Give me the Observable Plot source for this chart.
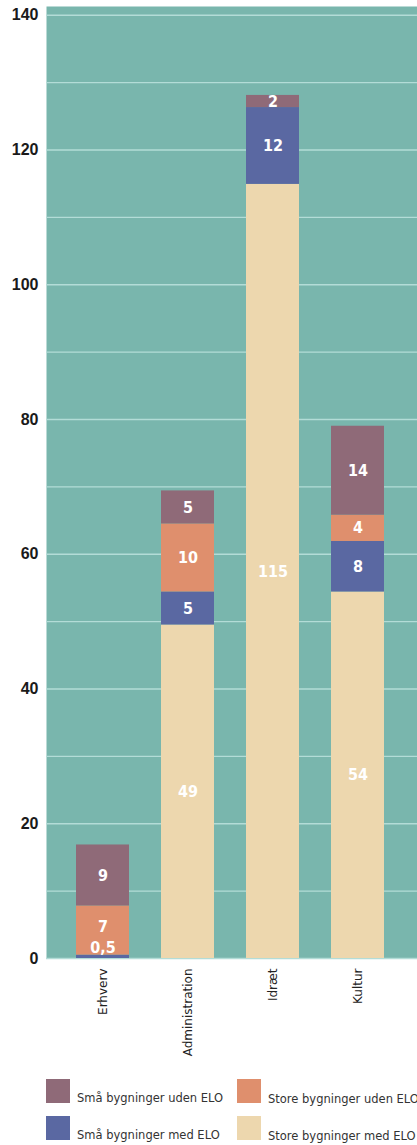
<!DOCTYPE html>
<html>
<head>
<meta charset="utf-8">
<script src="https://cdn.jsdelivr.net/npm/d3@7"></script>
<script src="https://cdn.jsdelivr.net/npm/@observablehq/plot@0.6"></script>
<style>
  html, body { margin: 0; padding: 0; background: #fff; }
  body { position: relative; width: 417px; height: 1145px; overflow: hidden; }
  #chart { position: absolute; left: 0; top: 0; }
  .sw { position: absolute; width: 24px; height: 24px; }
  .lt { position: absolute; font-family: "DejaVu Sans", sans-serif; font-size: 11.5px; line-height: 14px; color: #333; white-space: nowrap; }
  g.lbl text, g.lbl { font-family: "DejaVu Sans Condensed", "DejaVu Sans", sans-serif; font-stretch: condensed; }
</style>
</head>
<body>
<div id="chart"></div>
<div id="legend"></div>
<script>
// Categories (x axis)
const categories = ["Erhverv", "Administration", "Idræt", "Kultur"];
// Series, stacked bottom to top
const seriesNames = ["Store bygninger med ELO", "Små bygninger med ELO", "Store bygninger uden ELO", "Små bygninger uden ELO"];
const seriesColors = ["#edd7ae", "#5a68a2", "#df8f6d", "#8f6a78"];
// Values (bar heights)
const storeMedELO  = [0,    49.5, 114.9, 54.4];
const smaaMedELO   = [0.5,  4.9,  11.4,  7.5];
const storeUdenELO = [7.3,  10.1, 0,     3.9];
const smaaUdenELO  = [9.05, 4.9,  1.8,   13.2];
// Printed labels
const storeMedLabels  = ["", "49", "115", "54"];
const smaaMedLabels   = ["0,5", "5", "12", "8"];
const storeUdenLabels = ["7", "10", "", "4"];
const smaaUdenLabels  = ["9", "5", "2", "14"];
// Y tick labels
const yTicks = [0, 20, 40, 60, 80, 100, 120, 140];
const yGrid = [0, 10, 20, 30, 40, 50, 60, 70, 80, 90, 100, 110, 120, 130, 140];

const seriesValues = [storeMedELO, smaaMedELO, storeUdenELO, smaaUdenELO];
const seriesLabels = [storeMedLabels, smaaMedLabels, storeUdenLabels, smaaUdenLabels];
const data = [];
seriesNames.forEach((s, si) => {
  categories.forEach((c, ci) => {
    data.push({cat: c, series: s, value: seriesValues[si][ci], label: seriesLabels[si][ci]});
  });
});
const nonzero = data.filter(d => d.value > 0);

const labelStyle = {fill: "white", fontWeight: "bold", fontSize: 16, className: "lbl"};
const isTiny = d => d.value < 1;
const isRaised = d => d.cat === "Erhverv" && d.series === "Store bygninger uden ELO";

const stackText = (textFn, extra) => Plot.text(nonzero, Plot.stackY({
  x: "cat", y: "value", z: "series", order: seriesNames, text: textFn, ...labelStyle, ...extra
}));

const chart = Plot.plot({
  width: 417,
  height: 1065,
  marginLeft: 46,
  marginRight: 0,
  marginTop: 6,
  marginBottom: 107,
  style: {background: "transparent", fontFamily: "DejaVu Sans, sans-serif"},
  x: {domain: categories, range: [75, 384], paddingInner: 0.379, paddingOuter: 0, label: null},
  y: {domain: [0, 141.3], label: null},
  color: {domain: seriesNames, range: seriesColors},
  marks: [
    Plot.frame({fill: "#79b6ad", stroke: null}),
    Plot.gridY(yGrid, {stroke: "#b3dcd7", strokeOpacity: 1, strokeWidth: 1.3}),
    Plot.barY(nonzero, {x: "cat", y: "value", z: "series", fill: "series", order: seriesNames}),
    // labels centred in their segment
    stackText(d => (isTiny(d) || isRaised(d)) ? "" : d.label, {}),
    // Erhverv "7" sits a little high to leave room for the 0,5 label
    stackText(d => isRaised(d) ? d.label : "", {dy: -4}),
    // tiny segment label drawn just above its segment
    stackText(d => isTiny(d) ? d.label : "", {dy: -9}),
    Plot.axisY(yTicks, {tickSize: 0, tickPadding: 8, fontSize: 16, fontWeight: "bold",
      fontFamily: "Liberation Sans, Arial, sans-serif", fill: "#1a1a1a", label: null}),
    Plot.axisX({tickSize: 0, tickPadding: 10, tickRotate: -90, fontSize: 12, fill: "#222", label: null})
  ]
});
document.getElementById("chart").appendChild(chart);

// Legend (HTML, below the SVG)
const legend = document.getElementById("legend");
const legendOrder = [3, 2, 1, 0]; // Små uden, Store uden, Små med, Store med
const swLeft = [46, 237], txtLeft = [77, 268];
const swTop = [1079, 1116], txtTop = [[1091, 1092], [1128, 1129]];
legendOrder.forEach((si, k) => {
  const col = k % 2, row = Math.floor(k / 2);
  const sw = document.createElement("div");
  sw.className = "sw";
  sw.style.left = swLeft[col] + "px";
  sw.style.top = swTop[row] + "px";
  sw.style.background = seriesColors[si];
  legend.appendChild(sw);
  const t = document.createElement("div");
  t.className = "lt";
  t.style.left = txtLeft[col] + "px";
  t.style.top = txtTop[row][col] + "px";
  t.textContent = seriesNames[si];
  legend.appendChild(t);
});
</script>
</body>
</html>
